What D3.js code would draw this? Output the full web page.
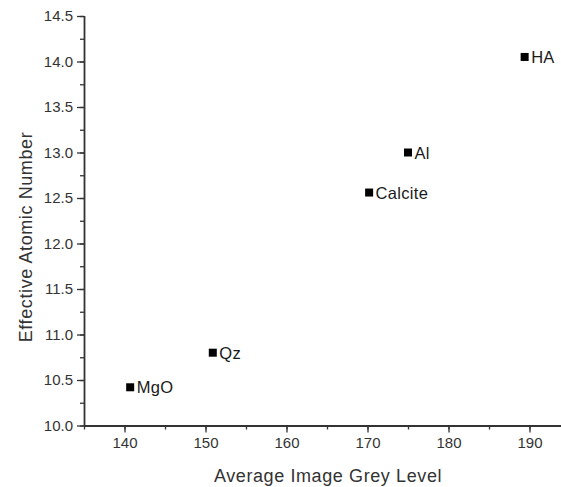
<!DOCTYPE html>
<html>
<head>
<meta charset="utf-8">
<script src="https://cdn.jsdelivr.net/npm/d3@7"></script>
<style>
  html, body { margin: 0; padding: 0; background: #fff; }
  svg { display: block; font-family: "Liberation Sans", Arial, sans-serif; }
</style>
</head>
<body>
<svg id="chart" width="561" height="487"></svg>
<script>
// Materials measured: average grey level vs effective atomic number
const materials = ["MgO", "Qz", "Calcite", "Al", "HA"];
const greyLevel = [140.7, 150.9, 170.2, 175.0, 189.4];
const atomicNumber = [10.42, 10.80, 12.56, 13.00, 14.05];

const xTicks = [140, 150, 160, 170, 180, 190];
const yTicks = [10.0, 10.5, 11.0, 11.5, 12.0, 12.5, 13.0, 13.5, 14.0, 14.5];

const svg = d3.select("#chart");
const ink = "#333";

const x = d3.scaleLinear().domain([135, 195]).range([84, 570]);
const y = d3.scaleLinear().domain([10, 14.5]).range([425.5, 16]);

// Y axis with minor ticks
const gy = svg.append("g").attr("transform", `translate(${x.range()[0]},0)`);
gy.call(d3.axisLeft(y).tickValues(d3.range(10, 14.5001, 0.25)).tickSize(4).tickFormat(""));
gy.selectAll(".tick line").attr("stroke", ink).attr("stroke-width", 1.3);
const gyMajor = svg.append("g").attr("transform", `translate(${x.range()[0]},0)`);
gyMajor.call(d3.axisLeft(y).tickValues(yTicks).tickSize(7).tickPadding(4).tickFormat(d3.format(".1f")));
gyMajor.selectAll(".tick line").attr("stroke", ink).attr("stroke-width", 1.3);
gyMajor.selectAll(".tick text").attr("fill", ink).style("font-size", "15px").style("font-family", "Liberation Sans, Arial, sans-serif");
gyMajor.select(".domain").remove();
gy.select(".domain").attr("stroke", ink).attr("stroke-width", 1.8).attr("d", `M0.5,${y(14.5)}V${y(10)}`);

// X axis with minor ticks
const gx = svg.append("g").attr("transform", `translate(0,${y.range()[0]})`);
gx.call(d3.axisBottom(x).tickValues(d3.range(135, 195.001, 5)).tickSize(4).tickFormat(""));
gx.selectAll(".tick line").attr("stroke", ink).attr("stroke-width", 1.3);
gx.select(".domain").attr("stroke", ink).attr("stroke-width", 1.8).attr("d", `M${x(135)},0.5H${x(195)}`);
const gxMajor = svg.append("g").attr("transform", `translate(0,${y.range()[0]})`);
gxMajor.call(d3.axisBottom(x).tickValues(xTicks).tickSize(7).tickPadding(5).tickFormat(d3.format("d")));
gxMajor.selectAll(".tick line").attr("stroke", ink).attr("stroke-width", 1.3);
gxMajor.selectAll(".tick text").attr("fill", ink).style("font-size", "15px").style("font-family", "Liberation Sans, Arial, sans-serif");
gxMajor.select(".domain").remove();

// Axis titles
svg.append("text")
  .attr("x", 328).attr("y", 481.5)
  .attr("text-anchor", "middle")
  .attr("fill", ink)
  .style("font-size", "18px")
  .style("letter-spacing", "0.6px")
  .text("Average Image Grey Level");

svg.append("text")
  .attr("transform", "translate(32,237) rotate(-90)")
  .attr("text-anchor", "middle")
  .attr("fill", ink)
  .style("font-size", "18px")
  .style("letter-spacing", "0.6px")
  .text("Effective Atomic Number");

// Points and labels
const pts = svg.append("g");
materials.forEach((m, i) => {
  const cx = x(greyLevel[i]), cy = y(atomicNumber[i]);
  pts.append("rect")
    .attr("x", cx - 4).attr("y", cy - 4)
    .attr("width", 8).attr("height", 8)
    .attr("fill", "#000");
  pts.append("text")
    .attr("x", cx + 6.5).attr("y", cy + 6)
    .attr("fill", "#1a1a1a")
    .style("font-size", "16.5px")
    .style("letter-spacing", "0.3px")
    .text(m);
});
</script>
</body>
</html>
